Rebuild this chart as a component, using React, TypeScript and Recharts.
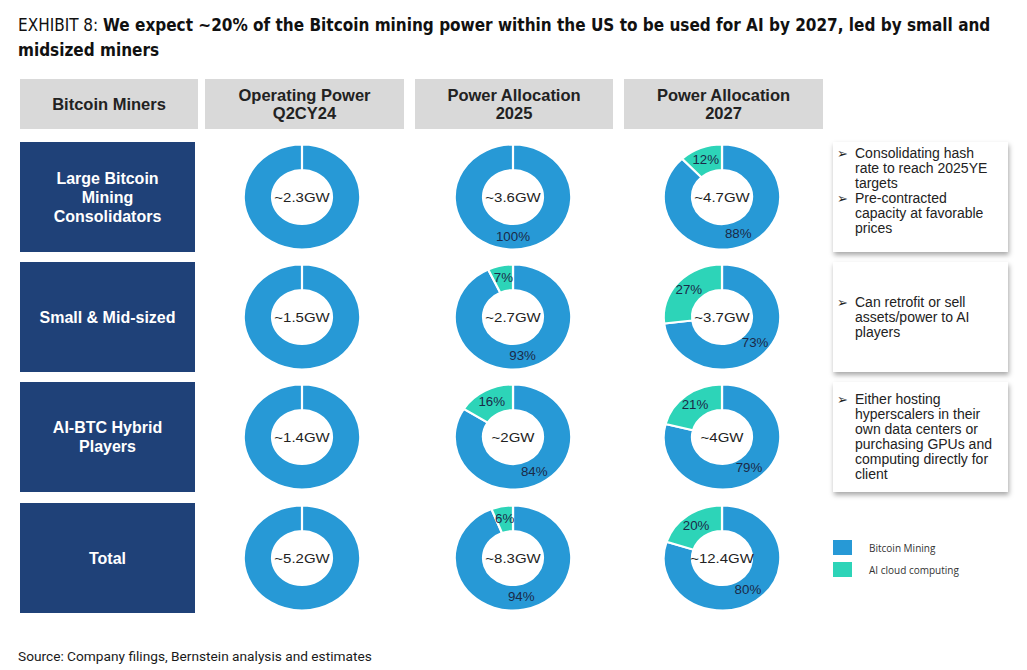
import React from "react";
import { PieChart, Pie, Cell, Label } from "recharts";

const minerGroups = ["Large Bitcoin\nMining\nConsolidators", "Small & Mid-sized", "AI-BTC Hybrid\nPlayers", "Total"];
const periods = ["Operating Power\nQ2CY24", "Power Allocation\n2025", "Power Allocation\n2027"];
const seriesNames = ["Bitcoin Mining", "AI cloud computing"];

const capacityQ2CY24 = ["~2.3GW", "~1.5GW", "~1.4GW", "~5.2GW"];
const btcQ2CY24 = [100, 100, 100, 100];
const aiQ2CY24 = [0, 0, 0, 0];

const capacity2025 = ["~3.6GW", "~2.7GW", "~2GW", "~8.3GW"];
const btc2025 = [100, 93, 84, 94];
const ai2025 = [0, 7, 16, 6];

const capacity2027 = ["~4.7GW", "~3.7GW", "~4GW", "~12.4GW"];
const btc2027 = [88, 73, 79, 80];
const ai2027 = [12, 27, 21, 20];

const notes = [
  ["Consolidating hash rate to reach 2025YE targets", "Pre-contracted capacity at favorable prices"],
  ["Can retrofit or sell assets/power to AI players"],
  ["Either hosting hyperscalers in their own data centers or purchasing GPUs and computing directly for client"],
];

const titleLines = [
  "We expect ~20% of the Bitcoin mining power within the US to be used for AI by 2027, led by small and",
  "midsized miners",
];

const BLUE = "#2799D6";
const TEAL = "#2DD4B8";
const NAVY = "#1F4178";
const GREY = "#D9D9D9";
const ARIAL = '"Liberation Sans", Arial, sans-serif';

const columns = [
  { capacity: capacityQ2CY24, btc: btcQ2CY24, ai: aiQ2CY24, showPct: false },
  { capacity: capacity2025, btc: btc2025, ai: ai2025, showPct: true },
  { capacity: capacity2027, btc: btc2027, ai: ai2027, showPct: true },
];

const headerBoxes = [
  { left: 20, width: 178 },
  { left: 205, width: 199 },
  { left: 415, width: 198 },
  { left: 624, width: 199 },
];
const rowTops = [142, 262, 382, 503];
const rowHeight = 110;
const donutX = [302, 513, 722];

const RADIAN = Math.PI / 180;

const makePctLabel = (show: boolean) => (props: any) => {
  const { cx, cy, midAngle, innerRadius, outerRadius, value } = props;
  if (!show || !value) return null;
  const r = innerRadius + (outerRadius - innerRadius) / 2;
  const x = cx + r * Math.cos(-midAngle * RADIAN);
  const y = cy + r * Math.sin(-midAngle * RADIAN);
  return (
    <text x={x} y={y} textAnchor="middle" dominantBaseline="central" fill="#1B2A48" fontSize={12} fontFamily={ARIAL}>
      {value}%
    </text>
  );
};

const Donut = ({ btc, ai, capacity, showPct }: { btc: number; ai: number; capacity: string; showPct: boolean }) => {
  const data = [
    { name: seriesNames[0], value: btc },
    { name: seriesNames[1], value: ai },
  ];
  return (
    <PieChart width={130} height={112}>
      <Pie
        data={data}
        dataKey="value"
        cx="50%"
        cy="50%"
        innerRadius={27}
        outerRadius={52.5}
        startAngle={90}
        endAngle={-270}
        stroke="#ffffff"
        strokeWidth={2}
        label={makePctLabel(showPct)}
        labelLine={false}
        isAnimationActive={false}
      >
        <Cell fill={BLUE} />
        <Cell fill={TEAL} />
        <Label value={capacity} position="center" fill="#222" fontSize={13.5} fontFamily={ARIAL} />
      </Pie>
    </PieChart>
  );
};

const App = () => {
  return (
    <div style={{ position: "absolute", left: 0, top: 0, width: 1027, height: 670, background: "#fff", overflow: "hidden", fontFamily: ARIAL }}>
      <div
        style={{
          position: "absolute",
          left: 18,
          top: 13,
          width: 1005,
          fontFamily: '"Liberation Sans Narrow", "DejaVu Sans Condensed", sans-serif',
          fontSize: 17,
          lineHeight: "25px",
          color: "#111",
          whiteSpace: "nowrap",
        }}
      >
        <div>
          <span style={{ fontWeight: 400 }}>EXHIBIT 8: </span>
          <span style={{ fontWeight: 700 }}>{titleLines[0]}</span>
        </div>
        <div style={{ fontWeight: 700 }}>{titleLines[1]}</div>
      </div>

      {["Bitcoin Miners", ...periods].map((h, i) => (
        <div
          key={h}
          style={{
            position: "absolute",
            left: headerBoxes[i].left,
            top: 79,
            width: headerBoxes[i].width,
            height: 50,
            background: GREY,
            display: "flex",
            alignItems: "center",
            justifyContent: "center",
            textAlign: "center",
            whiteSpace: "pre-line",
            fontWeight: 700,
            fontSize: 16.5,
            lineHeight: "18px",
            color: "#222",
          }}
        >
          {h}
        </div>
      ))}

      {minerGroups.map((g, r) => (
        <div
          key={g}
          style={{
            position: "absolute",
            left: 20,
            top: rowTops[r],
            width: 175,
            height: rowHeight,
            background: NAVY,
            display: "flex",
            alignItems: "center",
            justifyContent: "center",
            textAlign: "center",
            whiteSpace: "pre-line",
            fontWeight: 700,
            fontSize: 16,
            lineHeight: "19px",
            color: "#fff",
          }}
        >
          {g}
        </div>
      ))}

      {columns.map((col, c) =>
        minerGroups.map((g, r) => (
          <div
            key={`${c}-${r}`}
            style={{
              position: "absolute",
              left: donutX[c] - 65,
              top: rowTops[r] + rowHeight / 2 - 56,
              width: 130,
              height: 112,
              transform: "scaleX(1.11)",
              transformOrigin: "50% 50%",
            }}
          >
            <Donut btc={col.btc[r]} ai={col.ai[r]} capacity={col.capacity[r]} showPct={col.showPct} />
          </div>
        ))
      )}

      {notes.map((items, r) => (
        <div
          key={r}
          style={{
            position: "absolute",
            left: 833,
            top: rowTops[r],
            width: 175,
            height: rowHeight,
            background: "#fff",
            boxShadow: "1px 3px 5px rgba(0,0,0,0.35)",
            display: "flex",
            flexDirection: "column",
            justifyContent: "center",
            fontSize: 14,
            lineHeight: "15px",
            color: "#222",
            boxSizing: "border-box",
            paddingBottom: r === 0 ? 12 : 0,
          }}
        >
          {items.map((t) => (
            <div key={t} style={{ display: "flex" }}>
              <span style={{ width: 22, paddingLeft: 4, fontFamily: '"DejaVu Sans", sans-serif', fontSize: 13, boxSizing: "border-box" }}>➢</span>
              <span style={{ flex: 1, paddingRight: 12 }}>{t}</span>
            </div>
          ))}
        </div>
      ))}

      {seriesNames.map((s, i) => (
        <div key={s} style={{ position: "absolute", left: 833, top: 540 + i * 22, height: 15, display: "flex", alignItems: "center" }}>
          <div style={{ width: 19, height: 15, background: i === 0 ? BLUE : TEAL }} />
          <span style={{ marginLeft: 17, fontFamily: '"Open Sans", sans-serif', fontSize: 10, color: "#333" }}>{s}</span>
        </div>
      ))}

      <div style={{ position: "absolute", left: 18, top: 648, fontFamily: "Roboto, sans-serif", fontSize: 13.7, color: "#1a1a1a" }}>
        Source: Company filings, Bernstein analysis and estimates
      </div>
    </div>
  );
};

export default App;
